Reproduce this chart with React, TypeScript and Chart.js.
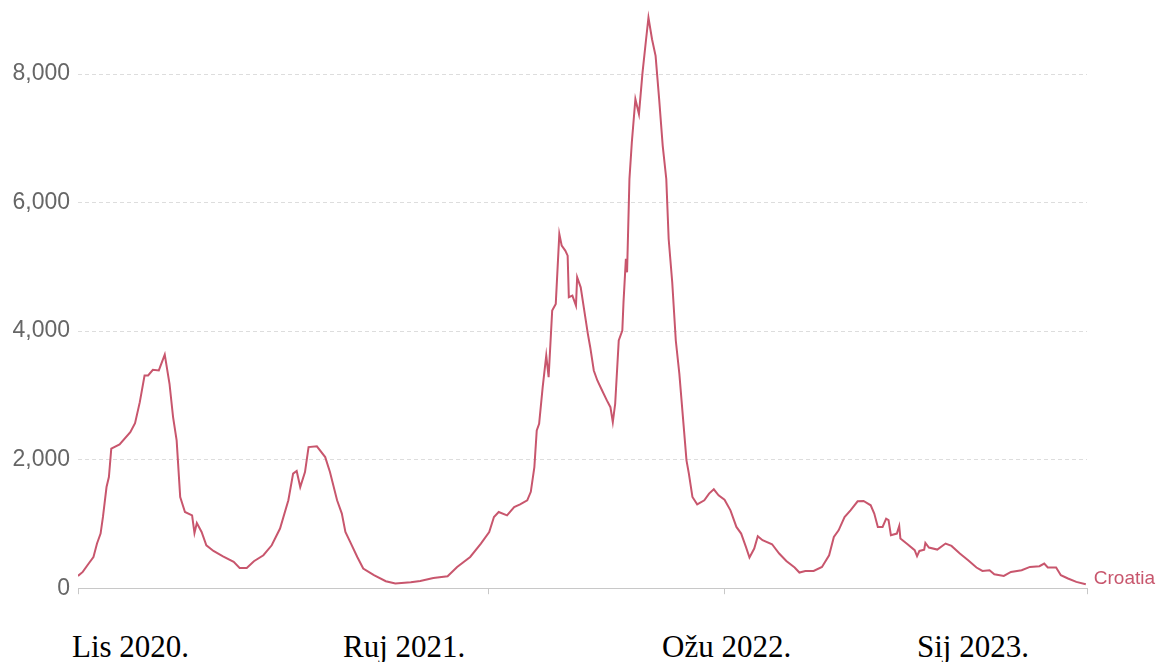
import React, { useEffect, useRef } from "react";
import { Chart, registerables } from "chart.js";

Chart.register(...registerables);

const SERIES_NAME = "Croatia";
const START_DATE = "2020-10-01";
const END_DATE = "2023-01-28";

// days since START_DATE
const dayOffsets = [
  0, 4, 9, 13, 16, 19, 21, 24, 26, 28, 35, 44, 48, 52, 56, 59, 63, 68, 73, 77,
  80, 83, 86, 90, 96, 98, 100, 104, 108, 114, 122, 131, 136, 142, 148, 156, 163, 170, 177, 181,
  184, 187, 191, 194, 201, 208, 212, 218, 222, 225, 229, 235, 240, 249, 259, 267, 280, 288, 299, 311,
  319, 330, 339, 346, 350, 354, 361, 367, 372, 378, 381, 384, 386, 388, 391, 394, 396, 399, 402, 405,
  407, 410, 412, 413, 416, 419, 420, 423, 426, 429, 431, 434, 437, 441, 445, 448, 450, 452, 455, 458,
  459, 461, 462, 464, 466, 469, 472, 475, 478, 480, 483, 486, 489, 492, 495, 497, 500, 503, 506, 509,
  512, 514, 517, 521, 527, 531, 535, 539, 544, 549, 554, 558, 562, 565, 569, 572, 576, 584, 590, 596,
  603, 607, 612, 619, 626, 632, 636, 640, 645, 650, 656, 661, 667, 670, 673, 677, 680, 682, 684, 689,
  691, 692, 698, 704, 706, 708, 712, 713, 716, 723, 730, 735, 742, 749, 756, 761, 767, 771, 779, 785,
  794, 801, 809, 813, 816, 823, 827, 833, 840, 848,
];

// daily new cases, 7-day average
const cases = [
  191, 253, 384, 486, 695, 850, 1108, 1574, 1730, 2171, 2238, 2429, 2569, 2895, 3310, 3310, 3398, 3388, 3636, 3181,
  2662, 2300, 1419, 1186, 1134, 859, 1015, 875, 668, 580, 497, 409, 316, 316, 420, 513, 668, 928, 1368, 1782,
  1823, 1574, 1807, 2196, 2207, 2040, 1807, 1368, 1161, 875, 720, 486, 306, 202, 109, 73, 93, 113, 160, 186,
  331, 486, 695, 875, 1108, 1186, 1134, 1263, 1305, 1368, 1500, 1885, 2455, 2559, 3128, 3621, 3284, 4320, 4424, 5512,
  5330, 5253, 5175, 4527, 4553, 4398, 4838, 4682, 4320, 3958, 3750, 3388, 3232, 3077, 2922, 2817, 2584, 2870, 3854, 4009,
  4449, 5124, 4915, 6367, 6936, 7610, 7377, 8023, 8542, 8878, 8542, 8283, 7610, 6884, 6367, 5434, 4760, 3854, 3336, 2662,
  1989, 1782, 1419, 1305, 1368, 1472, 1539, 1445, 1378, 1212, 953, 850, 642, 477, 617, 808, 746, 684, 539, 424,
  322, 244, 269, 269, 331, 513, 797, 901, 1108, 1212, 1352, 1357, 1290, 1161, 953, 953, 1083, 1060, 824, 850,
  968, 772, 684, 591, 497, 580, 600, 704, 632, 601, 695, 658, 539, 435, 322, 269, 280, 218, 191, 253,
  280, 331, 342, 384, 322, 322, 202, 151, 98, 62,
];

const tickDates = ["2020-10-01", "2021-09-11", "2022-03-29", "2023-01-28"];
const xTickLabels = ["Lis 2020.", "Ruj 2021.", "Ožu 2022.", "Sij 2023."];
const yTickValues = [0, 2000, 4000, 6000, 8000];
const Y_MAX = 9000;

const LINE_COLOR = "#c8566d";
const SANS = "'Liberation Sans', Arial, sans-serif";

const dayOf = (s: string) =>
  Math.round((Date.parse(s) - Date.parse(START_DATE)) / 86400000);

// layout (style) for the separately placed date captions
const captionLeft = [72, 343, 662, 917];

const endLabelPlugin = {
  id: "endLabel",
  afterDatasetsDraw(chart: any) {
    const meta = chart.getDatasetMeta(0);
    const pt = meta.data[meta.data.length - 1];
    if (!pt) return;
    const ctx = chart.ctx;
    ctx.save();
    ctx.font = `19px ${SANS}`;
    ctx.fillStyle = LINE_COLOR;
    ctx.textBaseline = "middle";
    ctx.textAlign = "left";
    ctx.fillText(SERIES_NAME, pt.x + 8, pt.y - 5);
    ctx.restore();
  },
};

export default function App() {
  const canvasRef = useRef<HTMLCanvasElement | null>(null);

  useEffect(() => {
    if (!canvasRef.current) return;
    const points = dayOffsets.map((d, i) => ({ x: d, y: cases[i] }));
    const chart = new Chart(canvasRef.current, {
      type: "line",
      data: {
        datasets: [
          {
            label: SERIES_NAME,
            data: points,
            borderColor: LINE_COLOR,
            borderWidth: 2,
            pointRadius: 0,
            tension: 0,
            fill: false,
          },
        ],
      },
      options: {
        responsive: false,
        animation: false,
        devicePixelRatio: 1,
        layout: { padding: { top: 9, right: 71, left: 0, bottom: 0 } },
        plugins: {
          legend: { display: false },
          tooltip: { enabled: false },
        },
        scales: {
          x: {
            type: "linear",
            min: 0,
            max: dayOf(END_DATE),
            afterBuildTicks: (axis: any) => {
              axis.ticks = tickDates.map((d) => ({ value: dayOf(d) }));
            },
            afterFit: (axis: any) => {
              axis.height = 12;
            },
            ticks: { display: false },
            grid: {
              drawOnChartArea: false,
              drawTicks: true,
              tickLength: 6,
              tickColor: "#c8c8c8",
              color: "#c8c8c8",
              lineWidth: 1,
            },
            border: { display: true, color: "#c8c8c8", width: 1 },
          },
          y: {
            type: "linear",
            min: 0,
            max: Y_MAX,
            afterBuildTicks: (axis: any) => {
              axis.ticks = yTickValues.map((v) => ({ value: v }));
            },
            afterFit: (axis: any) => {
              axis.width = 78;
            },
            ticks: {
              padding: 8,
              color: "#666666",
              font: { family: SANS, size: 23 },
              callback: (v: any) => Number(v).toLocaleString("en-US"),
            },
            grid: {
              drawTicks: false,
              color: (ctx: any) =>
                ctx.tick && ctx.tick.value === 0 ? "rgba(0,0,0,0)" : "#dddddd",
              lineWidth: 1,
            },
            border: { display: false, dash: [4, 3] },
          },
        },
      },
      plugins: [endLabelPlugin],
    });
    return () => chart.destroy();
  }, []);

  return (
    <div
      style={{
        position: "absolute",
        left: 0,
        top: 0,
        width: 1158,
        height: 662,
        background: "#ffffff",
        overflow: "hidden",
      }}
    >
      <canvas
        ref={canvasRef}
        width={1158}
        height={622}
        style={{ position: "absolute", left: 0, top: -12, width: 1158, height: 622 }}
      />
      {xTickLabels.map((t, i) => (
        <div
          key={t}
          style={{
            position: "absolute",
            left: captionLeft[i],
            top: 631,
            fontFamily: "'Liberation Serif', 'Times New Roman', serif",
            fontSize: 31,
            lineHeight: "31px",
            color: "#000",
            whiteSpace: "nowrap",
          }}
        >
          {t}
        </div>
      ))}
    </div>
  );
}
